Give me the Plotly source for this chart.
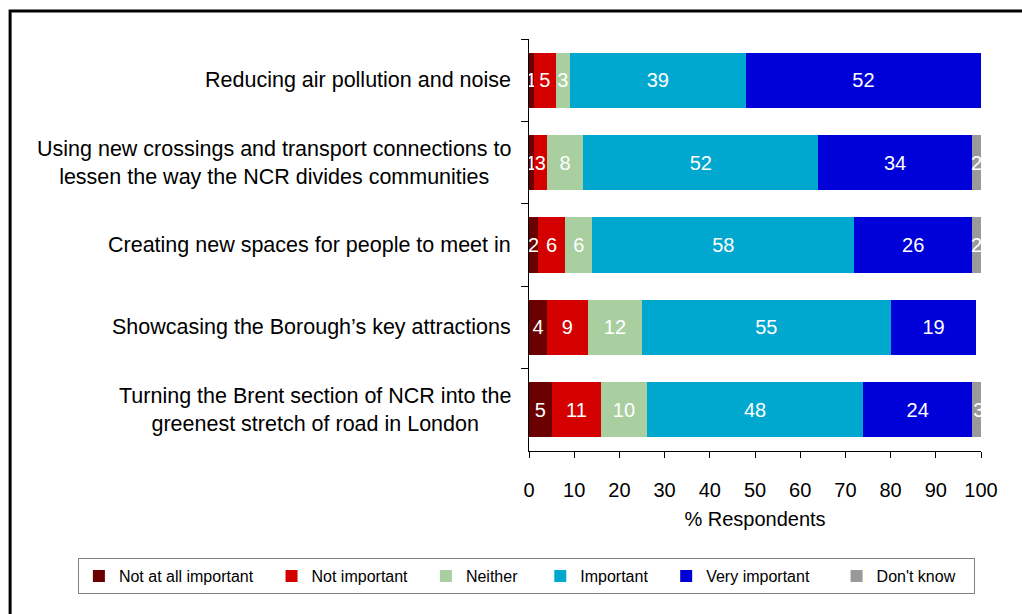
import plotly.graph_objects as go

# Survey statements (top to bottom) and response shares (% of respondents)
statements = [
    "Reducing air pollution and noise",
    "Using new crossings and transport connections to<br>lessen the way the NCR divides communities",
    "Creating new spaces for people to meet in",
    "Showcasing the Borough\u2019s key attractions",
    "Turning the Brent section of NCR into the<br>greenest stretch of road in London",
]

response_levels = ["Not at all important", "Not important", "Neither",
                   "Important", "Very important", "Don't know"]

not_at_all_important = [1, 1, 2, 4, 5]
not_important = [5, 3, 6, 9, 11]
neither = [3, 8, 6, 12, 10]
important = [39, 52, 58, 55, 48]
very_important = [52, 34, 26, 19, 24]
dont_know = [0, 2, 2, 0, 3]

series_values = [not_at_all_important, not_important, neither,
                 important, very_important, dont_know]
series_colors = ["#6a0000", "#d40000", "#a9cfa0", "#00a8d0", "#0000d8", "#9a9a9a"]

FONT = "Arial, Liberation Sans"
# extra room after each legend entry
legend_pad = [3, 3, 4, 3, 5, 3]

fig = go.Figure()
for name, vals, col, pad in zip(response_levels, series_values, series_colors, legend_pad):
    fig.add_trace(go.Bar(
        y=statements, x=vals, name=name + "\u00a0" * pad, orientation="h",
        marker=dict(color=col, line=dict(width=0)),
        text=[str(v) if v else "" for v in vals],
        textposition="inside", insidetextanchor="middle",
        textangle=0, constraintext="none",
        textfont=dict(family=FONT, size=20, color="white"),
        hoverinfo="skip",
    ))

# Category labels, centred line by line and right-aligned to the axis
for s in statements:
    fig.add_annotation(
        x=0, xref="paper", xanchor="right", xshift=-16,
        y=s, yref="y", showarrow=False, align="center",
        text=s, font=dict(family=FONT, size=21.5, color="#000000"),
    )

# Outer frame
fig.add_shape(type="rect", xref="paper", yref="paper",
              x0=-1.148, x1=1.12, y0=-0.45, y1=1.068,
              line=dict(color="#000000", width=3), layer="above")

fig.update_layout(
    width=1022, height=614,
    margin=dict(l=529, r=41, t=39, b=163),
    paper_bgcolor="white", plot_bgcolor="white",
    barmode="stack", bargap=0.33,
    showlegend=True,
    legend=dict(
        orientation="h", x=-0.998, xanchor="left", y=-0.26, yanchor="top",
        bordercolor="#808080", borderwidth=1, bgcolor="white",
        font=dict(family=FONT, size=16, color="#000000"),
        traceorder="normal",
    ),
    xaxis=dict(
        range=[0, 100], tickmode="linear", tick0=0, dtick=10,
        showgrid=False, zeroline=False,
        showline=True, linecolor="#000000", linewidth=1,
        ticks="outside", ticklen=6, tickcolor="#000000",
        ticklabelstandoff=15,
        tickfont=dict(family=FONT, size=20, color="#000000"),
        title=dict(text="% Respondents", standoff=11,
                   font=dict(family=FONT, size=20, color="#000000")),
    ),
    yaxis=dict(
        autorange="reversed", showticklabels=False, showgrid=False,
        showline=True, linecolor="#000000", linewidth=1,
        ticks="outside", ticklen=7, tickcolor="#000000", tickson="boundaries",
    ),
)

fig.write_html("out.html")
